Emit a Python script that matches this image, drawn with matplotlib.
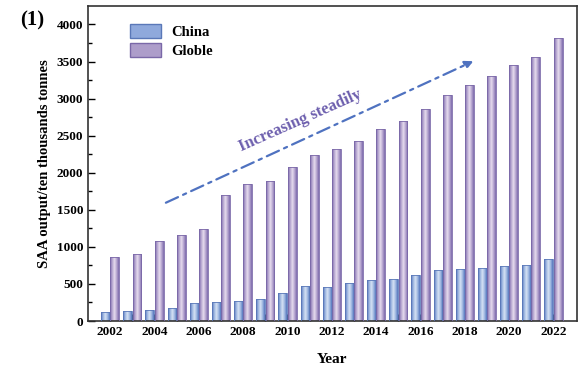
import numpy as np
import matplotlib
matplotlib.use("Agg")
import matplotlib.pyplot as plt
from matplotlib.colors import LinearSegmentedColormap
from matplotlib.patches import Patch

plt.rcParams['font.family'] = ['Liberation Serif', 'DejaVu Serif']
plt.rcParams['font.weight'] = 'bold'

# data (ten thousand tonnes)
years = np.arange(2002, 2023)
china = [125, 130, 150, 180, 240, 260, 270, 300, 375, 470, 462, 516, 548, 566,
         620, 687, 697, 718, 737, 759, 831]
globle = [870, 910, 1080, 1155, 1245, 1700, 1845, 1885, 2080, 2235, 2320, 2430,
          2585, 2700, 2853, 3042, 3190, 3298, 3454, 3562, 3818]
year_labels = [str(y) for y in range(2002, 2023, 2)]

china_cmap = LinearSegmentedColormap.from_list(
    "china", ["#5576bd", "#9db6e0", "#d6e2f4", "#9db6e0", "#5576bd"])
globle_cmap = LinearSegmentedColormap.from_list(
    "globle", ["#7d6aac", "#b6a6d0", "#e6dcee", "#b6a6d0", "#7d6aac"])

fig = plt.figure(figsize=(5.79, 3.69), dpi=100)
ax = fig.add_axes([0.152, 0.130, 0.844, 0.854])

w = 0.4
grad = np.linspace(0, 1, 64).reshape(1, -1)


def gradient_bars(xs, hs, cmap, edge):
    bars = ax.bar(xs, hs, width=w, color="none", edgecolor=edge, linewidth=0.6, zorder=3)
    for b in bars:
        x0, y0 = b.get_x(), b.get_y()
        im = ax.imshow(grad, cmap=cmap, aspect="auto", zorder=2,
                       extent=[x0, x0 + b.get_width(), y0, y0 + b.get_height()])
        im.set_clip_path(b)
    return bars


gradient_bars(years - 0.21, china, china_cmap, "#5a78b8")
gradient_bars(years + 0.21, globle, globle_cmap, "#7a68a8")

ax.set_xlim(2001, 2023.05)
ax.set_ylim(0, 4250)
ax.set_xticks(years, minor=True)
ax.set_xticks(range(2002, 2023, 2))
ax.set_xticklabels(year_labels)
ax.set_yticks(range(0, 4001, 500))
ax.set_yticks(range(250, 4001, 500), minor=True)
ax.tick_params(axis="both", which="both", direction="in", labelsize=9.5,
               top=False, right=False)
ax.tick_params(axis="both", which="major", length=5, width=1)
ax.tick_params(axis="both", which="minor", length=3, width=1)
ax.tick_params(axis="x", which="minor", length=5)
for lab in ax.get_xticklabels() + ax.get_yticklabels():
    lab.set_fontweight("bold")
for s in ax.spines.values():
    s.set_linewidth(1.2)
    s.set_color("#333333")

ax.set_xlabel("Year", fontsize=11, fontweight="bold", labelpad=11)
ax.set_ylabel("SAA output/ten thousands tonnes", fontsize=10.5, fontweight="bold", labelpad=4)

# legend with gradient-looking patches
handles = [Patch(facecolor="#8fa9dc", edgecolor="#5a78b8", label="China"),
           Patch(facecolor="#ad9dca", edgecolor="#7a68a8", label="Globle")]
ax.legend(handles=handles, loc="upper left", bbox_to_anchor=(0.06, 0.985), frameon=False,
          prop={"size": 10.5, "weight": "bold"}, handlelength=2.1, handleheight=1.1,
          labelspacing=0.3, handletextpad=0.7)

# trend arrow
ax.annotate("", xy=(2018.5, 3520), xytext=(2004.4, 1580),
            arrowprops=dict(arrowstyle="-|>", color="#4f72c0", lw=1.6,
                            linestyle=(0, (6, 2.5, 1.5, 2.5)), mutation_scale=12))
ax.text(2010.6, 2700, "Increasing steadily", color="#6d5fae", fontsize=12,
        fontweight="bold", rotation=24, ha="center", va="center")

fig.text(0.035, 0.93, "(1)", fontsize=15, fontweight="bold")

fig.savefig("out.png", dpi=100)
